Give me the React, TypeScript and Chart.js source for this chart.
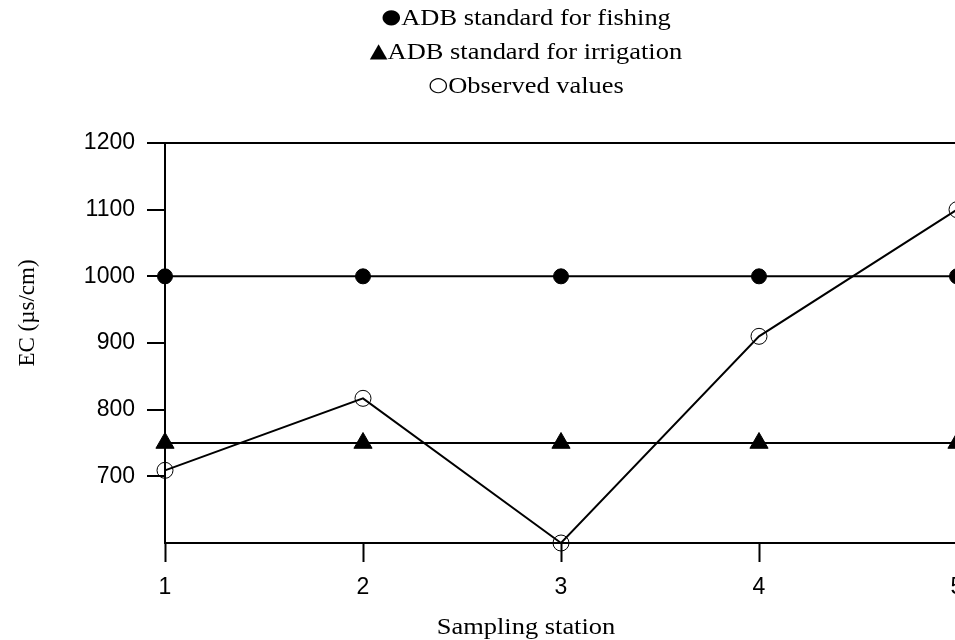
import React, { useEffect, useRef } from "react";
import { Chart, registerables } from "chart.js";

Chart.register(...registerables);

const stations = [1, 2, 3, 4, 5];
const fishingStandard = [1000, 1000, 1000, 1000, 1000];
const irrigationStandard = [750, 750, 750, 750, 750];
const observedValues = [709, 817, 600, 910, 1100];
const yMin = 600;
const yMax = 1200;
const yStep = 100;
const legendSymbols = ["●", "▲", "○"];
const legendLabels = [
  "ADB standard for fishing",
  "ADB standard for irrigation",
  "Observed values",
];
const xTitle = "Sampling station";
const yTitle = "EC (µs/cm)";

const serif = "'Liberation Serif', 'Times New Roman', serif";
const sans = "'Liberation Sans', Arial, sans-serif";

export default function App() {
  const ref = useRef<HTMLCanvasElement | null>(null);

  useEffect(() => {
    if (!ref.current) return;
    const pts = (vals: number[]) => stations.map((s, i) => ({ x: s, y: vals[i] }));
    const chart = new Chart(ref.current, {
      type: "line",
      data: {
        datasets: [
          {
            label: legendLabels[0],
            data: pts(fishingStandard),
            borderColor: "#000",
            borderWidth: 2,
            pointStyle: "circle",
            pointRadius: 7.5,
            pointBackgroundColor: "#000",
            pointBorderColor: "#000",
            pointBorderWidth: 1,
            clip: false as any,
          },
          {
            label: legendLabels[1],
            data: pts(irrigationStandard),
            borderColor: "#000",
            borderWidth: 2,
            pointStyle: "triangle",
            pointRadius: 10.5,
            pointBackgroundColor: "#000",
            pointBorderColor: "#000",
            pointBorderWidth: 1,
            clip: false as any,
          },
          {
            label: legendLabels[2],
            data: pts(observedValues),
            borderColor: "#000",
            borderWidth: 2,
            pointStyle: "circle",
            pointRadius: 8,
            pointBackgroundColor: "rgba(0,0,0,0)",
            pointBorderColor: "#000",
            pointBorderWidth: 1,
            clip: false as any,
          },
        ],
      },
      options: {
        animation: false,
        responsive: false,
        devicePixelRatio: 1,
        layout: { padding: { top: 143, right: 43, left: 0, bottom: 0 } },
        plugins: {
          legend: { display: false },
          title: { display: false },
          tooltip: { enabled: false },
        },
        scales: {
          x: {
            type: "linear",
            min: stations[0],
            max: stations[stations.length - 1],
            afterFit: (s: any) => {
              s.height = 97;
            },
            ticks: {
              stepSize: 1,
              color: "#000",
              padding: 12,
              font: { family: sans, size: 23 },
            },
            grid: {
              drawOnChartArea: false,
              drawTicks: true,
              tickLength: 19,
              tickColor: "#000",
              tickWidth: 2,
            },
            border: { color: "#000", width: 2 },
          },
          y: {
            min: yMin,
            max: yMax,
            afterFit: (s: any) => {
              s.width = 165;
            },
            ticks: {
              stepSize: yStep,
              color: "#000",
              padding: 12,
              font: { family: sans, size: 23 },
              callback: (v: any) => (v === yMin ? "" : String(v)),
            },
            grid: {
              drawOnChartArea: true,
              color: (ctx: any) => (ctx.tick && ctx.tick.value === yMax ? "#000" : "rgba(0,0,0,0)"),
              lineWidth: 2,
              tickLength: 18,
              tickColor: (ctx: any) => (ctx.tick && ctx.tick.value === yMin ? "rgba(0,0,0,0)" : "#000"),
              tickWidth: 2,
            },
            border: { color: "#000", width: 2 },
          },
        },
      },
    });
    return () => chart.destroy();
  }, []);

  return (
    <div
      style={{
        position: "absolute",
        left: 0,
        top: 0,
        width: 955,
        height: 640,
        overflow: "hidden",
        background: "#fff",
      }}
    >
      <canvas
        ref={ref}
        width={1000}
        height={640}
        style={{ position: "absolute", left: 0, top: 0, width: 1000, height: 640 }}
      />
      <div
        style={{
          position: "absolute",
          left: 26,
          top: 1,
          width: 1000,
          textAlign: "center",
          fontFamily: serif,
          fontSize: 23,
          lineHeight: "34px",
          color: "#000",
          transform: "scaleX(1.15)",
          transformOrigin: "center",
          whiteSpace: "nowrap",
        }}
      >
        {legendLabels.map((l, i) => (
          <div key={l}>
            <span
              style={{
                fontFamily: "'DejaVu Sans', sans-serif",
                fontSize: 20,
                position: "relative",
                top: -2,
              }}
            >
              {legendSymbols[i]}
            </span>
            {l}
          </div>
        ))}
      </div>
      <div
        style={{
          position: "absolute",
          left: 26,
          top: 610,
          width: 1000,
          textAlign: "center",
          fontFamily: serif,
          fontSize: 23,
          lineHeight: "34px",
          color: "#000",
          transform: "scaleX(1.15)",
          transformOrigin: "center",
          whiteSpace: "nowrap",
        }}
      >
        {xTitle}
      </div>
      <div
        style={{
          position: "absolute",
          left: 27 - 100,
          top: 313 - 15,
          width: 200,
          height: 30,
          lineHeight: "30px",
          textAlign: "center",
          fontFamily: serif,
          fontSize: 23,
          color: "#000",
          transform: "rotate(-90deg)",
          transformOrigin: "center",
          whiteSpace: "nowrap",
        }}
      >
        {yTitle}
      </div>
    </div>
  );
}
